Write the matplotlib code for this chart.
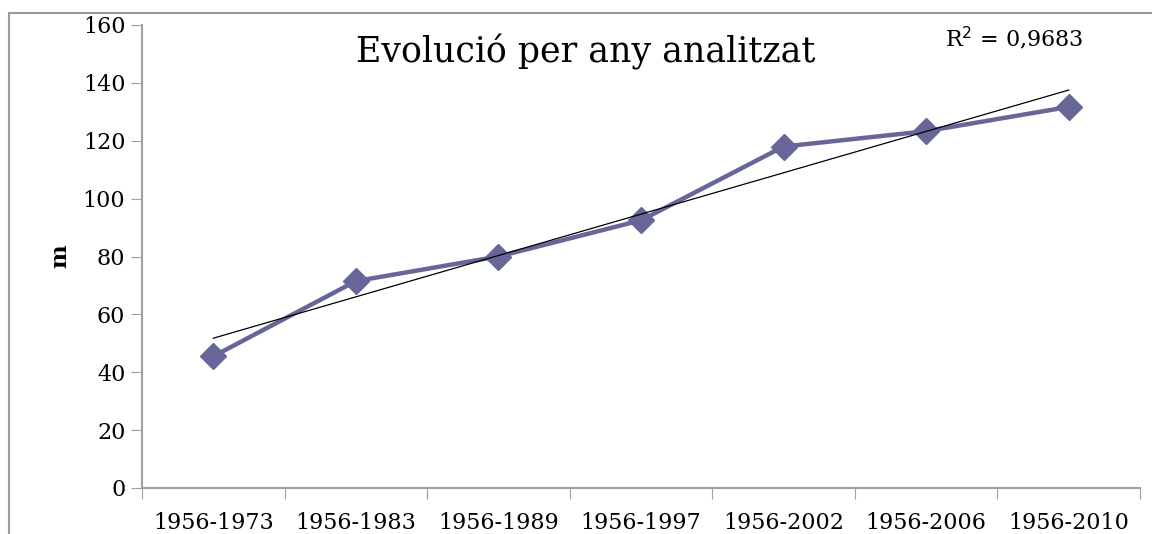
import numpy as np
import matplotlib
matplotlib.use('Agg')
import matplotlib.pyplot as plt
from matplotlib.patches import Rectangle

periods = ['1956-1973', '1956-1983', '1956-1989', '1956-1997',
           '1956-2002', '1956-2006', '1956-2010']
metres = [45.5, 71.5, 80.0, 92.5, 118.0, 123.3, 131.7]
r2_label = 'R$^2$ = 0,9683'

line_col = '#666699'
axis_col = '#a0a0a0'

plt.rcParams['font.family'] = ['DejaVu Serif']

fig = plt.figure(figsize=(11.52, 5.34), dpi=100)
ax = fig.add_axes([142 / 1152, 1 - 488 / 534, (1140 - 142) / 1152, (488 - 25) / 534])

# frame round the whole chart
fig.patches.append(Rectangle((9 / 1152, -0.1), 1.2, 1 - 13 / 534 + 0.1,
                             transform=fig.transFigure, fill=False,
                             edgecolor='#999999', linewidth=1.5))

x = np.arange(1, len(periods) + 1)
ax.plot(x, metres, color=line_col, linewidth=3.2, marker='D', markersize=13,
        markeredgecolor=line_col, zorder=3)

# linear trend line
k, b = np.polyfit(x, metres, 1)
ax.plot(x, k * x + b, color='black', linewidth=0.9, zorder=4)

ax.set_xlim(0.5, len(periods) + 0.5)
ax.set_ylim(0, 160)
ax.set_yticks(range(0, 161, 20))
ax.set_xticks(np.arange(0.5, len(periods) + 1, 1))
ax.set_xticklabels([])
ax.set_xticks(x, minor=True)
ax.set_xticklabels(periods, minor=True)
ax.tick_params(axis='x', which='major', length=8, color=axis_col, direction='out')
ax.tick_params(axis='x', which='minor', length=0, pad=17, labelsize=16)
ax.tick_params(axis='y', length=8, color=axis_col, labelsize=16, pad=4)

for s in ('top', 'right'):
    ax.spines[s].set_visible(False)
for s in ('left', 'bottom'):
    ax.spines[s].set_color(axis_col)
    ax.spines[s].set_linewidth(1.5)

ax.set_ylabel('m', fontsize=16, fontweight='bold', labelpad=8)

ax.text(0.445, 0.942, 'Evolució per any analitzat', transform=ax.transAxes,
        ha='center', va='center', fontsize=25)
ax.text(0.874, 0.972, r2_label, transform=ax.transAxes,
        ha='center', va='center', fontsize=16)

fig.savefig('out.png', dpi=100)
